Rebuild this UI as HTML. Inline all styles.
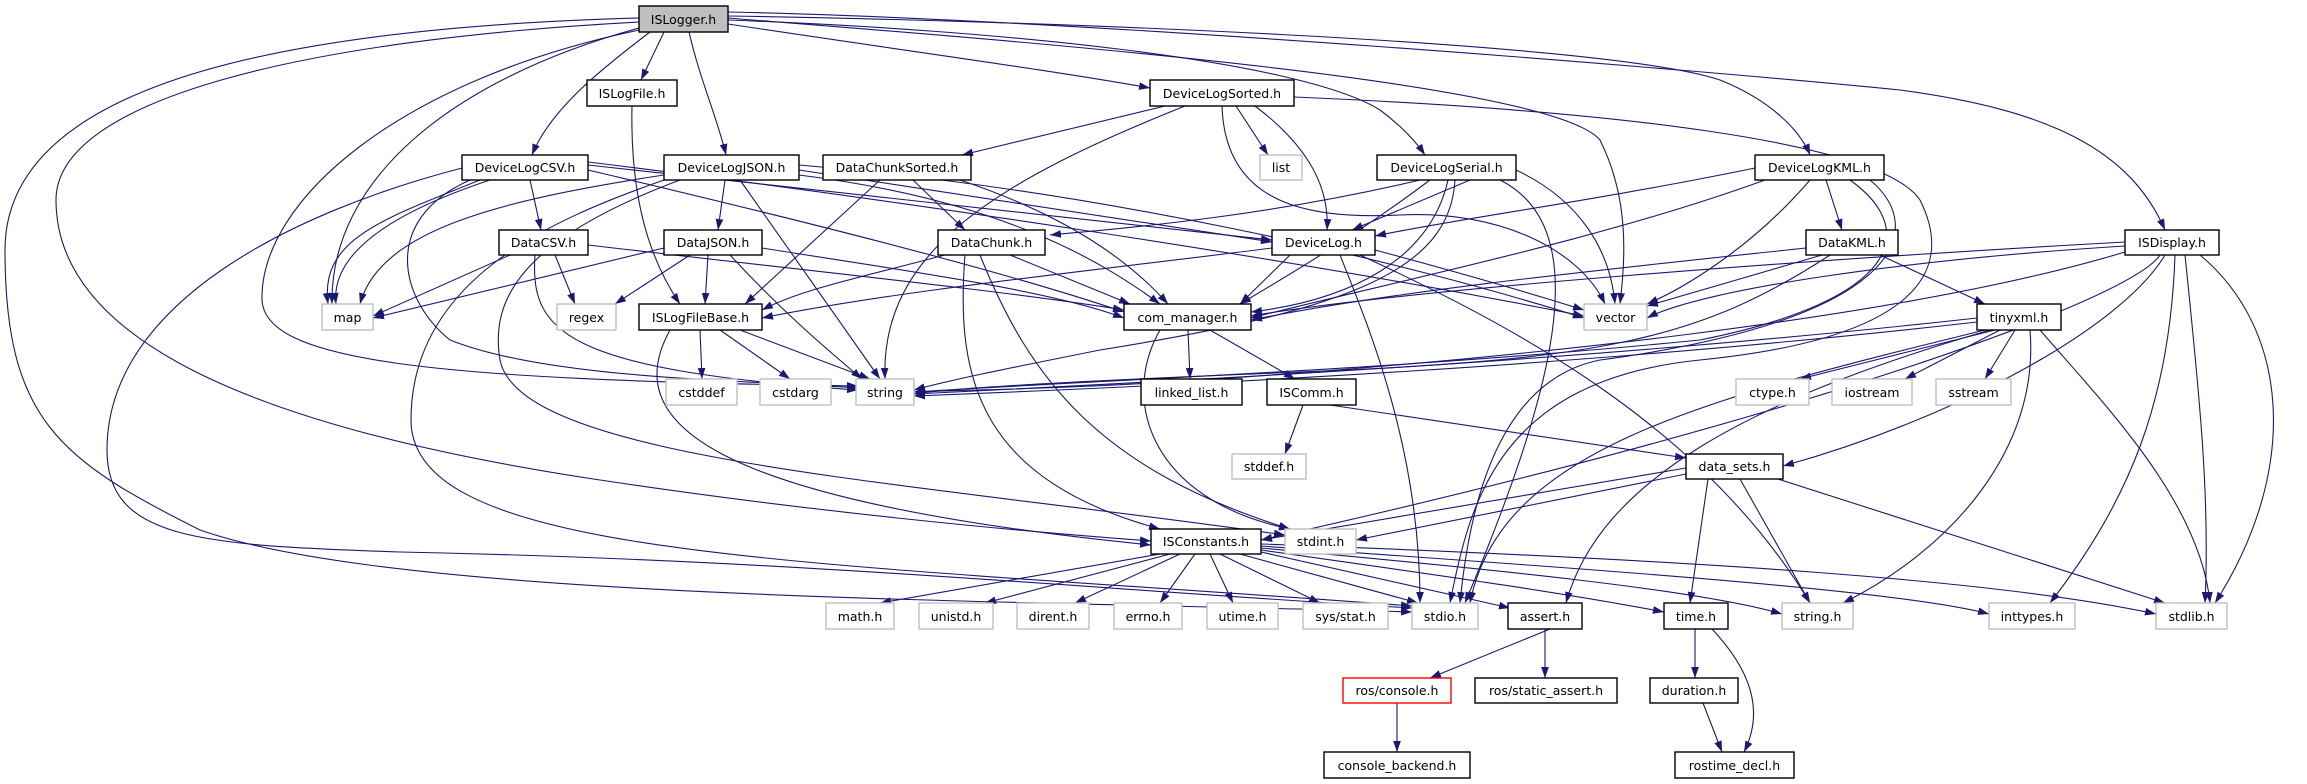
<!DOCTYPE html>
<html><head><meta charset="utf-8"><style>
html,body{margin:0;padding:0;background:#fff;}
svg{display:block;}
text{font-family:"DejaVu Sans","Liberation Sans",sans-serif;font-size:12.5px;fill:#000;text-anchor:middle;}
.e{fill:none;stroke:#191970;stroke-width:1.1;marker-end:url(#a);}
.n{fill:#fff;stroke:#000;stroke-width:1.4;}
.g{fill:#fff;stroke:#bfbfbf;stroke-width:1.4;}
</style></head><body>
<svg width="2307" height="784" viewBox="0 0 2307 784" xmlns="http://www.w3.org/2000/svg">
<defs><marker id="a" markerUnits="userSpaceOnUse" markerWidth="11" markerHeight="8" viewBox="0 0 10 7" refX="10" refY="3.5" orient="auto"><path d="M0,0 L10,3.5 L0,7 z" fill="#191970"/></marker></defs>
<g>
<!-- ISLogger -->
<path class="e" d="M664,32 L641,80"/>
<path class="e" d="M650,32 C600,70 550,110 532,155"/>
<path class="e" d="M689,32 C700,80 718,120 726,155"/>
<path class="e" d="M728,24 C900,50 1050,70 1150,88"/>
<path class="e" d="M728,20 C1000,30 1300,60 1380,110 C1400,125 1415,140 1425,155"/>
<path class="e" d="M728,16 C1000,20 1600,40 1720,80 C1770,100 1800,130 1810,155"/>
<path class="e" d="M728,12 C1100,20 1700,70 1900,90 C2050,110 2130,150 2165,230"/>
<path class="e" d="M728,18 C1000,40 1550,80 1600,140 C1630,200 1625,260 1620,304"/>
<path class="e" d="M639,28 C450,80 330,180 332,304"/>
<path class="e" d="M639,30 C400,80 260,200 262,300 C265,360 420,380 858,386"/>
<path class="e" d="M639,22 C300,40 56,100 56,200 C56,320 200,420 600,480 C800,510 1000,530 1151,541"/>
<path class="e" d="M639,18 C200,30 5,110 5,250 C5,420 60,460 200,530 C400,600 1000,600 1412,612"/>
<path class="e" d="M632,106 C630,200 650,260 680,304"/>
<!-- DeviceLogCSV -->
<path class="e" d="M530,180 L541,230"/>
<path class="e" d="M480,180 C380,220 320,240 328,304"/>
<path class="e" d="M490,180 C400,210 330,250 336,304"/>
<path class="e" d="M470,180 C380,220 400,300 450,340 C550,380 750,380 858,388"/>
<path class="e" d="M588,165 L1272,240"/>
<path class="e" d="M588,162 C900,200 1300,260 1584,316"/>
<path class="e" d="M588,170 C800,220 1000,270 1124,312"/>
<path class="e" d="M462,168 C300,210 107,300 107,450 C107,540 200,545 400,552 C800,560 1100,590 1412,608"/>
<!-- DeviceLogJSON -->
<path class="e" d="M725,180 L718,230"/>
<path class="e" d="M664,175 C500,200 380,230 360,304"/>
<path class="e" d="M740,180 L880,379"/>
<path class="e" d="M799,170 L1272,242"/>
<path class="e" d="M799,175 C1000,200 1100,260 1160,304"/>
<path class="e" d="M799,165 C1100,190 1400,260 1584,318"/>
<path class="e" d="M680,180 C520,240 490,300 500,360 C520,460 900,480 1285,535"/>
<path class="e" d="M664,180 C550,220 411,280 411,420 C411,560 800,560 1412,606"/>
<!-- DataChunkSorted -->
<path class="e" d="M913,180 L965,230"/>
<path class="e" d="M880,180 L745,304"/>
<path class="e" d="M960,180 C1050,210 1120,250 1168,304"/>
<!-- DeviceLogSorted -->
<path class="e" d="M1165,106 L962,155"/>
<path class="e" d="M1236,106 L1268,155"/>
<path class="e" d="M1255,106 C1300,140 1330,180 1327,230"/>
<path class="e" d="M1185,106 C1000,180 880,250 885,379"/>
<path class="e" d="M1222,106 C1225,200 1300,220 1400,215 C1500,210 1580,250 1605,304"/>
<path class="e" d="M1294,97 C1600,110 1880,140 1920,200 C1960,280 1900,340 1700,360 C1500,380 1470,500 1450,603"/>
<!-- DeviceLogSerial -->
<path class="e" d="M1470,180 L1352,230"/>
<path class="e" d="M1420,180 C1250,220 1100,230 1050,235"/>
<path class="e" d="M1430,180 C1350,240 1280,280 1240,304"/>
<path class="e" d="M1448,180 C1430,260 1350,300 1251,312"/>
<path class="e" d="M1516,170 C1580,200 1610,250 1615,304"/>
<path class="e" d="M1455,180 C1450,270 1350,310 1100,350 C1000,370 950,380 914,390"/>
<path class="e" d="M1500,180 C1600,230 1550,400 1465,603"/>
<!-- DeviceLogKML -->
<path class="e" d="M1826,180 L1842,230"/>
<path class="e" d="M1755,168 C1600,200 1450,220 1375,236"/>
<path class="e" d="M1765,180 C1600,240 1400,280 1251,318"/>
<path class="e" d="M1810,180 C1750,250 1680,290 1647,304"/>
<path class="e" d="M1850,180 C1920,230 1900,300 1700,340 C1400,370 1100,380 914,392"/>
<path class="e" d="M1870,180 C1930,230 1900,320 1600,360 C1500,380 1470,500 1460,603"/>
<!-- DataCSV -->
<path class="e" d="M510,255 L373,316"/>
<path class="e" d="M555,255 L575,304"/>
<path class="e" d="M535,255 C530,330 560,370 858,390"/>
<path class="e" d="M588,245 C800,270 1000,290 1124,310"/>
<!-- DataJSON -->
<path class="e" d="M664,248 L373,318"/>
<path class="e" d="M690,255 L615,304"/>
<path class="e" d="M708,255 L705,304"/>
<path class="e" d="M730,255 C790,320 840,360 862,379"/>
<path class="e" d="M762,248 C900,270 1050,290 1124,318"/>
<!-- DataChunk -->
<path class="e" d="M945,255 C850,280 800,290 762,310"/>
<path class="e" d="M1010,255 L1130,304"/>
<path class="e" d="M965,255 C955,380 980,480 1160,529"/>
<path class="e" d="M980,255 C1030,380 1100,470 1290,529"/>
<!-- DeviceLog -->
<path class="e" d="M1272,248 C1100,270 900,290 762,318"/>
<path class="e" d="M1290,255 L1240,304"/>
<path class="e" d="M1375,250 C1450,270 1520,290 1584,310"/>
<path class="e" d="M1340,255 C1370,330 1420,450 1420,603"/>
<path class="e" d="M1360,255 C1500,320 1700,420 1810,603"/>
<!-- DataKML -->
<path class="e" d="M1806,248 C1600,270 1400,290 1251,320"/>
<path class="e" d="M1822,255 L1647,306"/>
<path class="e" d="M1830,255 C1700,340 1600,360 1300,372 C1100,380 950,388 914,394"/>
<path class="e" d="M1880,255 L1985,304"/>
<!-- ISDisplay -->
<path class="e" d="M2125,246 C1900,260 1700,290 1647,318"/>
<path class="e" d="M2125,242 C1800,260 1400,290 1251,316"/>
<path class="e" d="M2125,252 C1900,320 1500,360 1200,380 C1050,390 950,390 914,392"/>
<path class="e" d="M2165,255 C2120,330 1950,420 1783,466"/>
<path class="e" d="M2160,255 C2130,300 1800,420 1261,540"/>
<path class="e" d="M2175,255 C2170,400 2130,500 2050,603"/>
<path class="e" d="M2185,255 C2200,400 2210,500 2205,603"/>
<path class="e" d="M2200,255 C2290,330 2300,470 2215,603"/>
<!-- tinyxml -->
<path class="e" d="M1977,318 C1600,360 1200,380 914,394"/>
<path class="e" d="M1977,322 C1600,365 1200,385 914,396"/>
<path class="e" d="M1995,330 L1800,379"/>
<path class="e" d="M2000,330 L1905,379"/>
<path class="e" d="M2015,330 L1985,379"/>
<path class="e" d="M2030,330 C2040,450 1950,550 1843,603"/>
<path class="e" d="M2040,330 C2100,400 2200,500 2210,603"/>
<path class="e" d="M1985,330 C1700,400 1500,450 1470,603"/>
<path class="e" d="M1990,330 C1750,400 1600,480 1566,603"/>
<!-- ISLogFileBase -->
<path class="e" d="M700,330 L702,379"/>
<path class="e" d="M720,330 L790,379"/>
<path class="e" d="M740,330 L870,379"/>
<path class="e" d="M670,330 C620,420 700,500 1151,545"/>
<!-- com_manager -->
<path class="e" d="M1188,330 L1190,379"/>
<path class="e" d="M1210,330 L1295,379"/>
<path class="e" d="M1160,330 C1120,400 1150,500 1290,529"/>
<!-- ISComm, data_sets -->
<path class="e" d="M1303,405 L1285,454"/>
<path class="e" d="M1330,405 L1686,458"/>
<path class="e" d="M1686,468 L1261,540"/>
<path class="e" d="M1686,474 L1356,540"/>
<path class="e" d="M1708,479 L1690,603"/>
<path class="e" d="M1740,479 L1810,603"/>
<path class="e" d="M1778,479 L2165,603"/>
<!-- ISConstants -->
<path class="e" d="M1160,554 L880,603"/>
<path class="e" d="M1170,554 L985,603"/>
<path class="e" d="M1180,554 L1075,603"/>
<path class="e" d="M1195,554 L1160,603"/>
<path class="e" d="M1210,554 L1233,603"/>
<path class="e" d="M1220,554 L1320,603"/>
<path class="e" d="M1240,554 L1418,603"/>
<path class="e" d="M1261,552 L1510,608"/>
<path class="e" d="M1261,550 C1400,570 1550,590 1664,612"/>
<path class="e" d="M1261,548 C1500,570 1700,590 1782,614"/>
<path class="e" d="M1261,546 C1600,570 1900,590 1989,614"/>
<path class="e" d="M1261,544 C1700,560 2000,580 2156,614"/>
<!-- bottom -->
<path class="e" d="M1550,629 L1430,678"/>
<path class="e" d="M1545,629 L1545,678"/>
<path class="e" d="M1397,703 L1397,752"/>
<path class="e" d="M1695,629 L1695,678"/>
<path class="e" d="M1712,629 C1760,680 1760,720 1744,752"/>
<path class="e" d="M1703,703 L1722,752"/>
</g>
<g>
<rect x="639" y="6" width="89" height="26" fill="#bfbfbf" stroke="#000" stroke-width="1.4"/><text x="683.5" y="24">ISLogger.h</text>
<rect class="n" x="587" y="80" width="90" height="26"/><text x="632" y="98">ISLogFile.h</text>
<rect class="n" x="1150" y="80" width="144" height="26"/><text x="1222" y="98">DeviceLogSorted.h</text>
<rect class="n" x="462" y="155" width="126" height="25"/><text x="525" y="172">DeviceLogCSV.h</text>
<rect class="n" x="664" y="155" width="135" height="25"/><text x="731.5" y="172">DeviceLogJSON.h</text>
<rect class="n" x="823" y="155" width="148" height="25"/><text x="897" y="172">DataChunkSorted.h</text>
<rect class="g" x="1260" y="155" width="42" height="25"/><text x="1281" y="172">list</text>
<rect class="n" x="1377" y="155" width="139" height="25"/><text x="1446.5" y="172">DeviceLogSerial.h</text>
<rect class="n" x="1755" y="155" width="129" height="25"/><text x="1819.5" y="172">DeviceLogKML.h</text>
<rect class="n" x="499" y="230" width="89" height="25"/><text x="543.5" y="247">DataCSV.h</text>
<rect class="n" x="664" y="230" width="98" height="25"/><text x="713" y="247">DataJSON.h</text>
<rect class="n" x="938" y="230" width="107" height="25"/><text x="991.5" y="247">DataChunk.h</text>
<rect class="n" x="1272" y="230" width="103" height="25"/><text x="1323.5" y="247">DeviceLog.h</text>
<rect class="n" x="1806" y="230" width="92" height="25"/><text x="1852" y="247">DataKML.h</text>
<rect class="n" x="2125" y="230" width="94" height="25"/><text x="2172" y="247">ISDisplay.h</text>
<rect class="g" x="322" y="304" width="51" height="26"/><text x="347.5" y="322">map</text>
<rect class="g" x="557" y="304" width="59" height="26"/><text x="586.5" y="322">regex</text>
<rect class="n" x="639" y="304" width="123" height="26"/><text x="700.5" y="322">ISLogFileBase.h</text>
<rect class="n" x="1124" y="304" width="127" height="26"/><text x="1187.5" y="322">com_manager.h</text>
<rect class="g" x="1584" y="304" width="63" height="26"/><text x="1615.5" y="322">vector</text>
<rect class="n" x="1977" y="304" width="84" height="26"/><text x="2019" y="322">tinyxml.h</text>
<rect class="g" x="666" y="379" width="71" height="26"/><text x="701.5" y="397">cstddef</text>
<rect class="g" x="760" y="379" width="71" height="26"/><text x="795.5" y="397">cstdarg</text>
<rect class="g" x="856" y="379" width="58" height="26"/><text x="885" y="397">string</text>
<rect class="n" x="1141" y="379" width="101" height="26"/><text x="1191.5" y="397">linked_list.h</text>
<rect class="n" x="1267" y="379" width="89" height="26"/><text x="1311.5" y="397">ISComm.h</text>
<rect class="g" x="1736" y="379" width="73" height="26"/><text x="1772.5" y="397">ctype.h</text>
<rect class="g" x="1832" y="379" width="80" height="26"/><text x="1872" y="397">iostream</text>
<rect class="g" x="1936" y="379" width="75" height="26"/><text x="1973.5" y="397">sstream</text>
<rect class="g" x="1232" y="454" width="74" height="25"/><text x="1269" y="471">stddef.h</text>
<rect class="n" x="1686" y="454" width="97" height="25"/><text x="1734.5" y="471">data_sets.h</text>
<rect class="n" x="1151" y="529" width="110" height="25"/><text x="1206" y="546">ISConstants.h</text>
<rect class="g" x="1285" y="529" width="71" height="25"/><text x="1320.5" y="546">stdint.h</text>
<rect class="g" x="826" y="603" width="68" height="26"/><text x="860" y="621">math.h</text>
<rect class="g" x="919" y="603" width="74" height="26"/><text x="956" y="621">unistd.h</text>
<rect class="g" x="1017" y="603" width="72" height="26"/><text x="1053" y="621">dirent.h</text>
<rect class="g" x="1114" y="603" width="68" height="26"/><text x="1148" y="621">errno.h</text>
<rect class="g" x="1207" y="603" width="71" height="26"/><text x="1242.5" y="621">utime.h</text>
<rect class="g" x="1303" y="603" width="85" height="26"/><text x="1345.5" y="621">sys/stat.h</text>
<rect class="g" x="1412" y="603" width="66" height="26"/><text x="1445" y="621">stdio.h</text>
<rect class="n" x="1508" y="603" width="74" height="26"/><text x="1545" y="621">assert.h</text>
<rect class="n" x="1664" y="603" width="64" height="26"/><text x="1696" y="621">time.h</text>
<rect class="g" x="1782" y="603" width="71" height="26"/><text x="1817.5" y="621">string.h</text>
<rect class="g" x="1989" y="603" width="86" height="26"/><text x="2032" y="621">inttypes.h</text>
<rect class="g" x="2156" y="603" width="71" height="26"/><text x="2191.5" y="621">stdlib.h</text>
<rect x="1343" y="678" width="108" height="25" fill="#fff" stroke="#ff0000" stroke-width="1.4"/><text x="1397" y="695">ros/console.h</text>
<rect class="n" x="1475" y="678" width="142" height="25"/><text x="1546" y="695">ros/static_assert.h</text>
<rect class="n" x="1650" y="678" width="88" height="25"/><text x="1694" y="695">duration.h</text>
<rect class="n" x="1324" y="752" width="146" height="26"/><text x="1397" y="770">console_backend.h</text>
<rect class="n" x="1675" y="752" width="119" height="26"/><text x="1734.5" y="770">rostime_decl.h</text>
</g>
</svg>
</body></html>
